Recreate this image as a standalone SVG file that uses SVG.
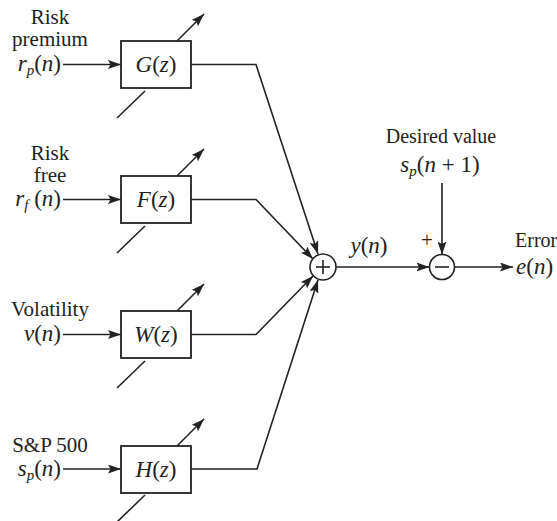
<svg xmlns="http://www.w3.org/2000/svg" width="557" height="521" viewBox="0 0 557 521">
<style>
text{font-family:"Liberation Serif","Times New Roman",serif;fill:#222;}
.lbl{font-size:21px;text-anchor:middle;}
.m{font-size:23px;}
.i{font-style:italic;}
.sub{font-size:15px;font-style:italic;}
.box{fill:#fff;stroke:#222;stroke-width:1.8;}
.ln{fill:none;stroke:#222;stroke-width:1.6;}
.cir{fill:#fff;stroke:#222;stroke-width:1.6;}
</style>
<defs>
<marker id="ah" markerWidth="14" markerHeight="9" refX="13" refY="4.5" orient="auto" markerUnits="userSpaceOnUse">
<path d="M0,0 L13,4.5 L0,9 L2.5,4.5 z" fill="#222"/>
</marker>
</defs>

<g id="connectors">
<line class="ln" x1="63" y1="64.5" x2="121" y2="64.5" marker-end="url(#ah)"/>
<line class="ln" x1="63" y1="199.5" x2="121" y2="199.5" marker-end="url(#ah)"/>
<line class="ln" x1="63" y1="334.5" x2="121" y2="334.5" marker-end="url(#ah)"/>
<line class="ln" x1="63" y1="469" x2="121" y2="469" marker-end="url(#ah)"/>
<line class="ln" x1="117" y1="118" x2="145" y2="91"/>
<line class="ln" x1="177" y1="41" x2="204" y2="14" marker-end="url(#ah)"/>
<line class="ln" x1="117" y1="253" x2="145" y2="226"/>
<line class="ln" x1="177" y1="176" x2="204" y2="149" marker-end="url(#ah)"/>
<line class="ln" x1="117" y1="388" x2="145" y2="361"/>
<line class="ln" x1="177" y1="311" x2="204" y2="284" marker-end="url(#ah)"/>
<line class="ln" x1="117" y1="522" x2="145" y2="495"/>
<line class="ln" x1="177" y1="446" x2="204" y2="419" marker-end="url(#ah)"/>
<polyline class="ln" points="191,64.5 256,64.5 318,254" marker-end="url(#ah)"/>
<polyline class="ln" points="191,199.5 256,199.5 313,259" marker-end="url(#ah)"/>
<polyline class="ln" points="191,334.5 256,334.5 313,276" marker-end="url(#ah)"/>
<polyline class="ln" points="191,469 257,469 318,280" marker-end="url(#ah)"/>
<line class="ln" x1="336" y1="267" x2="429.5" y2="267" marker-end="url(#ah)"/>
<line class="ln" x1="442" y1="183" x2="442" y2="254.5" marker-end="url(#ah)"/>
<line class="ln" x1="454.5" y1="267" x2="513" y2="267" marker-end="url(#ah)"/>
</g>

<g id="in-G">
<text class="lbl" x="50" y="24">Risk</text>
<text class="lbl" x="50" y="46">premium</text>
<text class="m" x="61" y="71" text-anchor="end"><tspan class="i">r</tspan><tspan class="sub" dy="4">p</tspan><tspan dy="-4">(</tspan><tspan class="i">n</tspan>)</text>
</g>
<g id="in-F">
<text class="lbl" x="50" y="160">Risk</text>
<text class="lbl" x="50" y="182">free</text>
<text class="m" x="61" y="206" text-anchor="end"><tspan class="i">r</tspan><tspan class="sub" dy="4">f</tspan><tspan dy="-4"> (</tspan><tspan class="i">n</tspan>)</text>
</g>
<g id="in-W">
<text class="lbl" x="50" y="316">Volatility</text>
<text class="m" x="61" y="341" text-anchor="end"><tspan class="i">v</tspan>(<tspan class="i">n</tspan>)</text>
</g>
<g id="in-H">
<text class="lbl" x="50" y="452">S&amp;P 500</text>
<text class="m" x="61" y="476" text-anchor="end"><tspan class="i">s</tspan><tspan class="sub" dy="4">p</tspan><tspan dy="-4">(</tspan><tspan class="i">n</tspan>)</text>
</g>

<g id="G">
<rect class="box" x="121" y="41" width="70" height="47"/>
<text class="m" x="156" y="72" text-anchor="middle" font-size="22"><tspan class="i">G</tspan>(<tspan class="i">z</tspan>)</text>
</g>
<g id="F">
<rect class="box" x="121" y="176" width="70" height="47"/>
<text class="m" x="156" y="207" text-anchor="middle" font-size="22"><tspan class="i">F</tspan>(<tspan class="i">z</tspan>)</text>
</g>
<g id="W">
<rect class="box" x="121" y="311" width="70" height="47"/>
<text class="m" x="156" y="342" text-anchor="middle" font-size="22"><tspan class="i">W</tspan>(<tspan class="i">z</tspan>)</text>
</g>
<g id="H">
<rect class="box" x="121" y="446" width="70" height="47"/>
<text class="m" x="156" y="477" text-anchor="middle" font-size="22"><tspan class="i">H</tspan>(<tspan class="i">z</tspan>)</text>
</g>

<g id="sum">
<circle class="cir" cx="323" cy="267" r="13"/>
<line class="ln" x1="316" y1="267" x2="330" y2="267" stroke-width="1.3"/>
<line class="ln" x1="323" y1="260" x2="323" y2="274" stroke-width="1.3"/>
<text class="m" x="369" y="253" text-anchor="middle"><tspan class="i">y</tspan>(<tspan class="i">n</tspan>)</text>
</g>

<g id="sub">
<circle class="cir" cx="442" cy="267" r="12.5"/>
<line class="ln" x1="435" y1="267" x2="449" y2="267" stroke-width="1.3"/>
<text x="427" y="247" font-size="21" text-anchor="middle">+</text>
</g>

<g id="desired">
<text x="441" y="143" font-size="20" text-anchor="middle">Desired value</text>
<text class="m" x="440" y="172" text-anchor="middle"><tspan class="i">s</tspan><tspan class="sub" dy="4">p</tspan><tspan dy="-4">(</tspan><tspan class="i">n</tspan> + 1)</text>
</g>

<g id="error">
<text x="515" y="247" font-size="20">Error</text>
<text class="m" x="516" y="274"><tspan class="i">e</tspan>(<tspan class="i">n</tspan>)</text>
</g>
</svg>
